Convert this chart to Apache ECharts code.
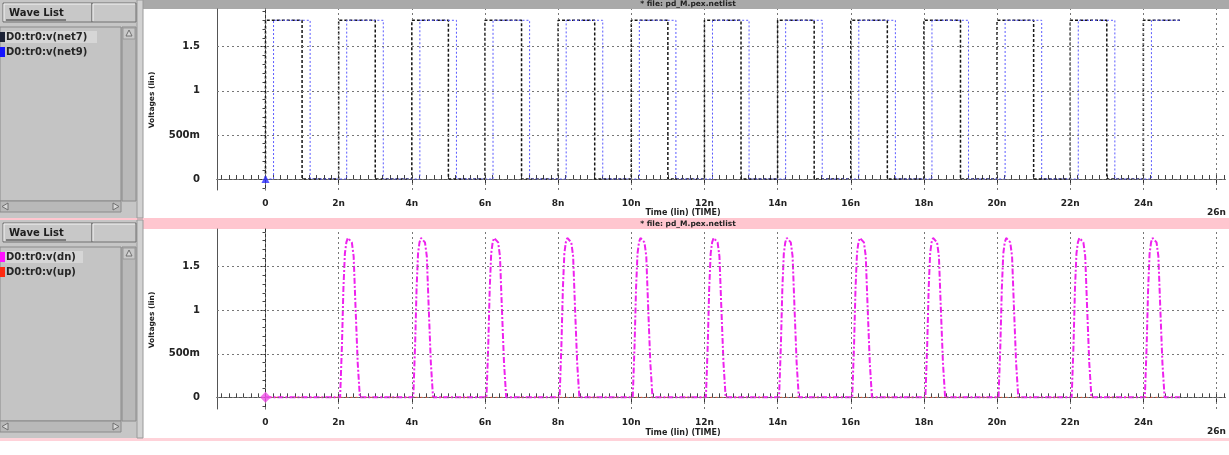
<!DOCTYPE html>
<html>
<head>
<meta charset="utf-8">
<title>pd_M.pex.netlist</title>
<script src="https://cdn.jsdelivr.net/npm/echarts@6/dist/echarts.min.js"></script>
<style>
html,body{margin:0;padding:0;background:#fff;}
#main{width:1229px;height:455px;}
</style>
</head>
<body>
<div id="main"></div>
<script>
// axis ticks
var xTickVals = [0,2,4,6,8,10,12,14,16,18,20,22,24,26];
var xTickLabels = ['0','2n','4n','6n','8n','10n','12n','14n','16n','18n','20n','22n','24n','26n'];
var yTickVals = [0,0.5,1,1.5];
var yTickLabels = ['0','500m','1','1.5'];

// top panel: D0:tr0:v(net7)  (time in ns, volts) - step points
var net7Time = [0,0,1,2,3,4,5,6,7,8,9,10,11,12,13,14,15,16,17,18,19,20,21,22,23,24,25];
var net7Volt = [0,1.8,0,1.8,0,1.8,0,1.8,0,1.8,0,1.8,0,1.8,0,1.8,0,1.8,0,1.8,0,1.8,0,1.8,0,1.8,1.8];
// D0:tr0:v(net9)
var net9Time = [0,0.22,1.22,2.22,3.22,4.22,5.22,6.22,7.22,8.22,9.22,10.22,11.22,12.22,13.22,14.22,15.22,16.22,17.22,18.22,19.22,20.22,21.22,22.22,23.22,24.22,25];
var net9Volt = [0,1.8,0,1.8,0,1.8,0,1.8,0,1.8,0,1.8,0,1.8,0,1.8,0,1.8,0,1.8,0,1.8,0,1.8,0,1.8,1.8];

// bottom panel: D0:tr0:v(dn) pulses
var dnPulseStart = [2,4,6,8,10,12,14,16,18,20,22,24];
var dnShapeT = [0.04,0.09,0.13,0.17,0.21,0.25,0.30,0.36,0.41,0.46,0.52,0.58];
var dnShapeV = [0,0.6,1.25,1.65,1.78,1.83,1.82,1.78,1.62,1.05,0.4,0];
var dnEnd = 25;
// D0:tr0:v(up)
var upTime = [0,25];
var upVolt = [0,0];

var FONT = '"DejaVu Sans", sans-serif';

function zip(t, v) {
    var out = [];
    for (var i = 0; i < t.length; i++) out.push([t[i], v[i]]);
    return out;
}

var dnData = [[0,0]];
for (var p = 0; p < dnPulseStart.length; p++) {
    for (var k = 0; k < dnShapeT.length; k++) {
        dnData.push([dnPulseStart[p] + dnShapeT[k], dnShapeV[k]]);
    }
}
dnData.push([dnEnd, 0]);

// minor tick positions
var xMinor = [];
for (var i = -6; i <= 131; i++) xMinor.push(Math.round(i * 2) / 10);
var yMinor = [];
for (var j = -1; j <= 19; j++) yMinor.push(j / 10);

var xRange = [-1.326, 26.234];
var yRanges = [[-0.1247, 1.928], [-0.134, 1.933]];

function mainX(g) {
    return {
        type: 'value', gridIndex: g, position: 'bottom', min: xRange[0], max: xRange[1],
        axisLine: {show: true, lineStyle: {color: '#333', width: 1}},
        axisTick: {show: true, customValues: xTickVals, length: 6, lineStyle: {color: '#333'}},
        axisLabel: {
            show: true, customValues: xTickVals, margin: 9,
            fontFamily: FONT, fontWeight: 'bold', fontSize: 9, color: '#222',
            formatter: function (v) {
                var i = xTickVals.indexOf(v);
                if (i < 0) return '';
                return v === 26 ? '{lo|' + xTickLabels[i] + '}' : xTickLabels[i];
            },
            rich: {lo: {padding: [9, 0, 0, 0], fontFamily: FONT, fontWeight: 'bold', fontSize: 9, color: '#222'}}
        },
        splitLine: {show: false}
    };
}
function minorX(g) {
    return {
        type: 'value', gridIndex: g, position: 'bottom', offset: 4, min: xRange[0], max: xRange[1],
        axisLine: {show: true, lineStyle: {color: '#555', width: 1}},
        axisTick: {show: true, inside: true, customValues: xMinor, length: 4, lineStyle: {color: '#444'}},
        axisLabel: {show: false},
        splitLine: {show: false}
    };
}
function mainY(g) {
    return {
        type: 'value', gridIndex: g, position: 'left', offset: 5, min: yRanges[g][0], max: yRanges[g][1],
        axisLine: {show: true, lineStyle: {color: '#333', width: 1}},
        axisTick: {show: true, customValues: yTickVals, length: 5, lineStyle: {color: '#333'}},
        axisLabel: {
            show: true, customValues: yTickVals, margin: 12,
            fontFamily: FONT, fontWeight: 'bold', fontSize: 10, color: '#222',
            formatter: function (v) {
                var i = yTickVals.indexOf(v);
                return i < 0 ? '' : yTickLabels[i];
            }
        },
        splitLine: {show: false}
    };
}
function minorY(g) {
    return {
        type: 'value', gridIndex: g, position: 'left', offset: 5, min: yRanges[g][0], max: yRanges[g][1],
        axisLine: {show: false},
        axisTick: {show: true, customValues: yMinor, length: 3, lineStyle: {color: '#444'}},
        axisLabel: {show: false},
        splitLine: {show: false}
    };
}
// plot frame on the left side
function frameY(g) {
    return {
        type: 'value', gridIndex: g, position: 'left', offset: 0, min: yRanges[g][0], max: yRanges[g][1],
        axisLine: {show: true, lineStyle: {color: '#555', width: 1}},
        axisTick: {show: false}, axisLabel: {show: false}, splitLine: {show: false}
    };
}

function gridLines(xi, yi) {
    var d = [];
    xTickVals.forEach(function (v) { d.push({xAxis: v}); });
    yTickVals.forEach(function (v) { d.push({yAxis: v}); });
    return {
        type: 'line', xAxisIndex: xi, yAxisIndex: yi, z: 1, silent: true,
        data: [[0, 0]], showSymbol: false, lineStyle: {width: 0},
        markLine: {
            silent: true, symbol: ['none', 'none'], animation: false,
            label: {show: false},
            lineStyle: {color: '#777', type: [2, 3], width: 1},
            data: d
        }
    };
}

// left "Wave List" panel
function panel(oy, items, selW) {
    var g = [];
    g.push({type: 'rect', shape: {x: 0, y: oy, width: 143, height: 218}, style: {fill: '#c6c6c6'}});
    g.push({type: 'rect', shape: {x: 137, y: oy, width: 6, height: 218}, style: {fill: '#d2d2d2', stroke: '#9a9a9a', lineWidth: 1}});
    // buttons
    g.push({type: 'rect', shape: {x: 3, y: oy + 3, width: 89, height: 19}, style: {fill: '#c8c8c8', stroke: '#707070', lineWidth: 1}});
    g.push({type: 'polyline', shape: {points: [[4, oy + 21], [4, oy + 4], [91, oy + 4]]}, style: {stroke: '#f4f4f4', lineWidth: 1, fill: null}});
    g.push({type: 'text', style: {x: 9, y: oy + 13, text: 'Wave List', font: 'bold 10px ' + FONT, fill: '#1e1e1e', verticalAlign: 'middle'}});
    g.push({type: 'line', shape: {x1: 6, y1: oy + 20, x2: 66, y2: oy + 20}, style: {stroke: '#333', lineWidth: 1}});
    g.push({type: 'rect', shape: {x: 92, y: oy + 3, width: 44, height: 19}, style: {fill: '#c8c8c8', stroke: '#707070', lineWidth: 1}});
    g.push({type: 'polyline', shape: {points: [[93, oy + 21], [93, oy + 4], [135, oy + 4]]}, style: {stroke: '#f4f4f4', lineWidth: 1, fill: null}});
    // list box
    g.push({type: 'rect', shape: {x: 0, y: oy + 27, width: 121, height: 174}, style: {fill: '#c4c4c4', stroke: '#8a8a8a', lineWidth: 1}});
    // vertical scrollbar
    g.push({type: 'rect', shape: {x: 122, y: oy + 27, width: 14, height: 174}, style: {fill: '#b9b9b9', stroke: '#8a8a8a', lineWidth: 1}});
    g.push({type: 'rect', shape: {x: 123, y: oy + 28, width: 12, height: 11}, style: {fill: '#c8c8c8', stroke: '#9a9a9a', lineWidth: 1}});
    g.push({type: 'polygon', shape: {points: [[129, oy + 30], [126, oy + 36], [132, oy + 36]]}, style: {fill: '#d8d8d8', stroke: '#707070', lineWidth: 1}});
    // horizontal scrollbar
    g.push({type: 'rect', shape: {x: 0, y: oy + 201, width: 121, height: 11}, style: {fill: '#b9b9b9', stroke: '#8a8a8a', lineWidth: 1}});
    g.push({type: 'polygon', shape: {points: [[2, oy + 206.5], [8, oy + 203], [8, oy + 210]]}, style: {fill: '#d8d8d8', stroke: '#707070', lineWidth: 1}});
    g.push({type: 'polygon', shape: {points: [[119, oy + 206.5], [113, oy + 203], [113, oy + 210]]}, style: {fill: '#d8d8d8', stroke: '#707070', lineWidth: 1}});
    // items
    g.push({type: 'rect', shape: {x: 5, y: oy + 31, width: selW, height: 12}, style: {fill: '#d6d6d6'}});
    items.forEach(function (it, i) {
        var cy = oy + 37 + i * 15;
        g.push({type: 'rect', shape: {x: 0, y: cy - 5, width: 5, height: 10}, style: {fill: it.color}});
        g.push({type: 'text', style: {x: 6, y: cy, text: it.name, font: 'bold 10px ' + FONT, fill: '#262626', verticalAlign: 'middle'}});
    });
    return g;
}

var graphics = [];
// separators and title bars
graphics.push({type: 'rect', shape: {x: 143, y: 0, width: 1086, height: 9}, style: {fill: '#a9a9a9'}});
graphics.push({type: 'text', style: {x: 688, y: 4.5, text: '* file: pd_M.pex.netlist', font: 'bold 7.5px ' + FONT, fill: '#222', align: 'center', verticalAlign: 'middle'}});
graphics.push({type: 'rect', shape: {x: 0, y: 218, width: 1229, height: 4}, style: {fill: '#ffc6cf'}});
graphics.push({type: 'rect', shape: {x: 143, y: 218, width: 1086, height: 11}, style: {fill: '#ffc6cf'}});
graphics.push({type: 'text', style: {x: 688, y: 224.5, text: '* file: pd_M.pex.netlist', font: 'bold 7.5px ' + FONT, fill: '#222', align: 'center', verticalAlign: 'middle'}});
graphics.push({type: 'rect', shape: {x: 0, y: 438, width: 1229, height: 3}, style: {fill: '#ffd2d9'}});
graphics = graphics.concat(panel(0, [{name: 'D0:tr0:v(net7)', color: '#1c2236'}, {name: 'D0:tr0:v(net9)', color: '#1414ff'}], 92));
graphics = graphics.concat(panel(220, [{name: 'D0:tr0:v(dn)', color: '#ff10ff'}, {name: 'D0:tr0:v(up)', color: '#ff2a10'}], 78));
// axis titles
[0, 220].forEach(function (oy) {
    graphics.push({type: 'text', x: 152, y: oy + 100, rotation: Math.PI / 2,
        style: {x: 0, y: 0, text: 'Voltages (lin)', font: 'bold 7.5px ' + FONT, fill: '#222', align: 'center', verticalAlign: 'middle'}});
    graphics.push({type: 'text', style: {x: 683, y: oy + 213, text: 'Time (lin) (TIME)', font: 'bold 8px ' + FONT, fill: '#222', align: 'center', verticalAlign: 'middle'}});
});

var option = {
    animation: false,
    backgroundColor: '#ffffff',
    grid: [
        {left: 217, top: 9, width: 1012, height: 181},
        {left: 217, top: 229, width: 1012, height: 180}
    ],
    xAxis: [mainX(0), minorX(0), mainX(1), minorX(1)],
    yAxis: [mainY(0), minorY(0), frameY(0), mainY(1), minorY(1), frameY(1)],
    series: [
        gridLines(0, 0),
        gridLines(2, 3),
        {
            name: 'D0:tr0:v(net7)', type: 'line', xAxisIndex: 0, yAxisIndex: 0, z: 3,
            step: 'end', showSymbol: false, data: zip(net7Time, net7Volt),
            lineStyle: {color: '#161616', width: 1.5, type: [3, 2]}
        },
        {
            name: 'D0:tr0:v(net9)', type: 'line', xAxisIndex: 0, yAxisIndex: 0, z: 4,
            step: 'end', showSymbol: false, data: zip(net9Time, net9Volt),
            lineStyle: {color: '#5a5aff', width: 1, type: [2, 2]}
        },
        {
            type: 'scatter', xAxisIndex: 0, yAxisIndex: 0, z: 5, symbol: 'triangle', symbolSize: 8,
            data: [[net9Time[0], net9Volt[0]]], itemStyle: {color: '#2a2aff'}
        },
        {
            name: 'D0:tr0:v(up)', type: 'line', xAxisIndex: 2, yAxisIndex: 3, z: 3,
            showSymbol: false, data: zip(upTime, upVolt),
            lineStyle: {color: '#ff5030', width: 1, type: [2, 3]}
        },
        {
            name: 'D0:tr0:v(dn)', type: 'line', xAxisIndex: 2, yAxisIndex: 3, z: 4,
            showSymbol: false, smooth: false, data: dnData,
            lineStyle: {color: '#ee22ee', width: 2, type: [6, 2, 2, 2]}
        },
        {
            type: 'scatter', xAxisIndex: 2, yAxisIndex: 3, z: 5, symbol: 'diamond', symbolSize: 11,
            data: [dnData[0]], itemStyle: {color: '#f050e8'}
        }
    ],
    graphic: {elements: graphics}
};

var myChart = echarts.init(document.getElementById('main'));
myChart.setOption(option);
</script>
</body>
</html>
